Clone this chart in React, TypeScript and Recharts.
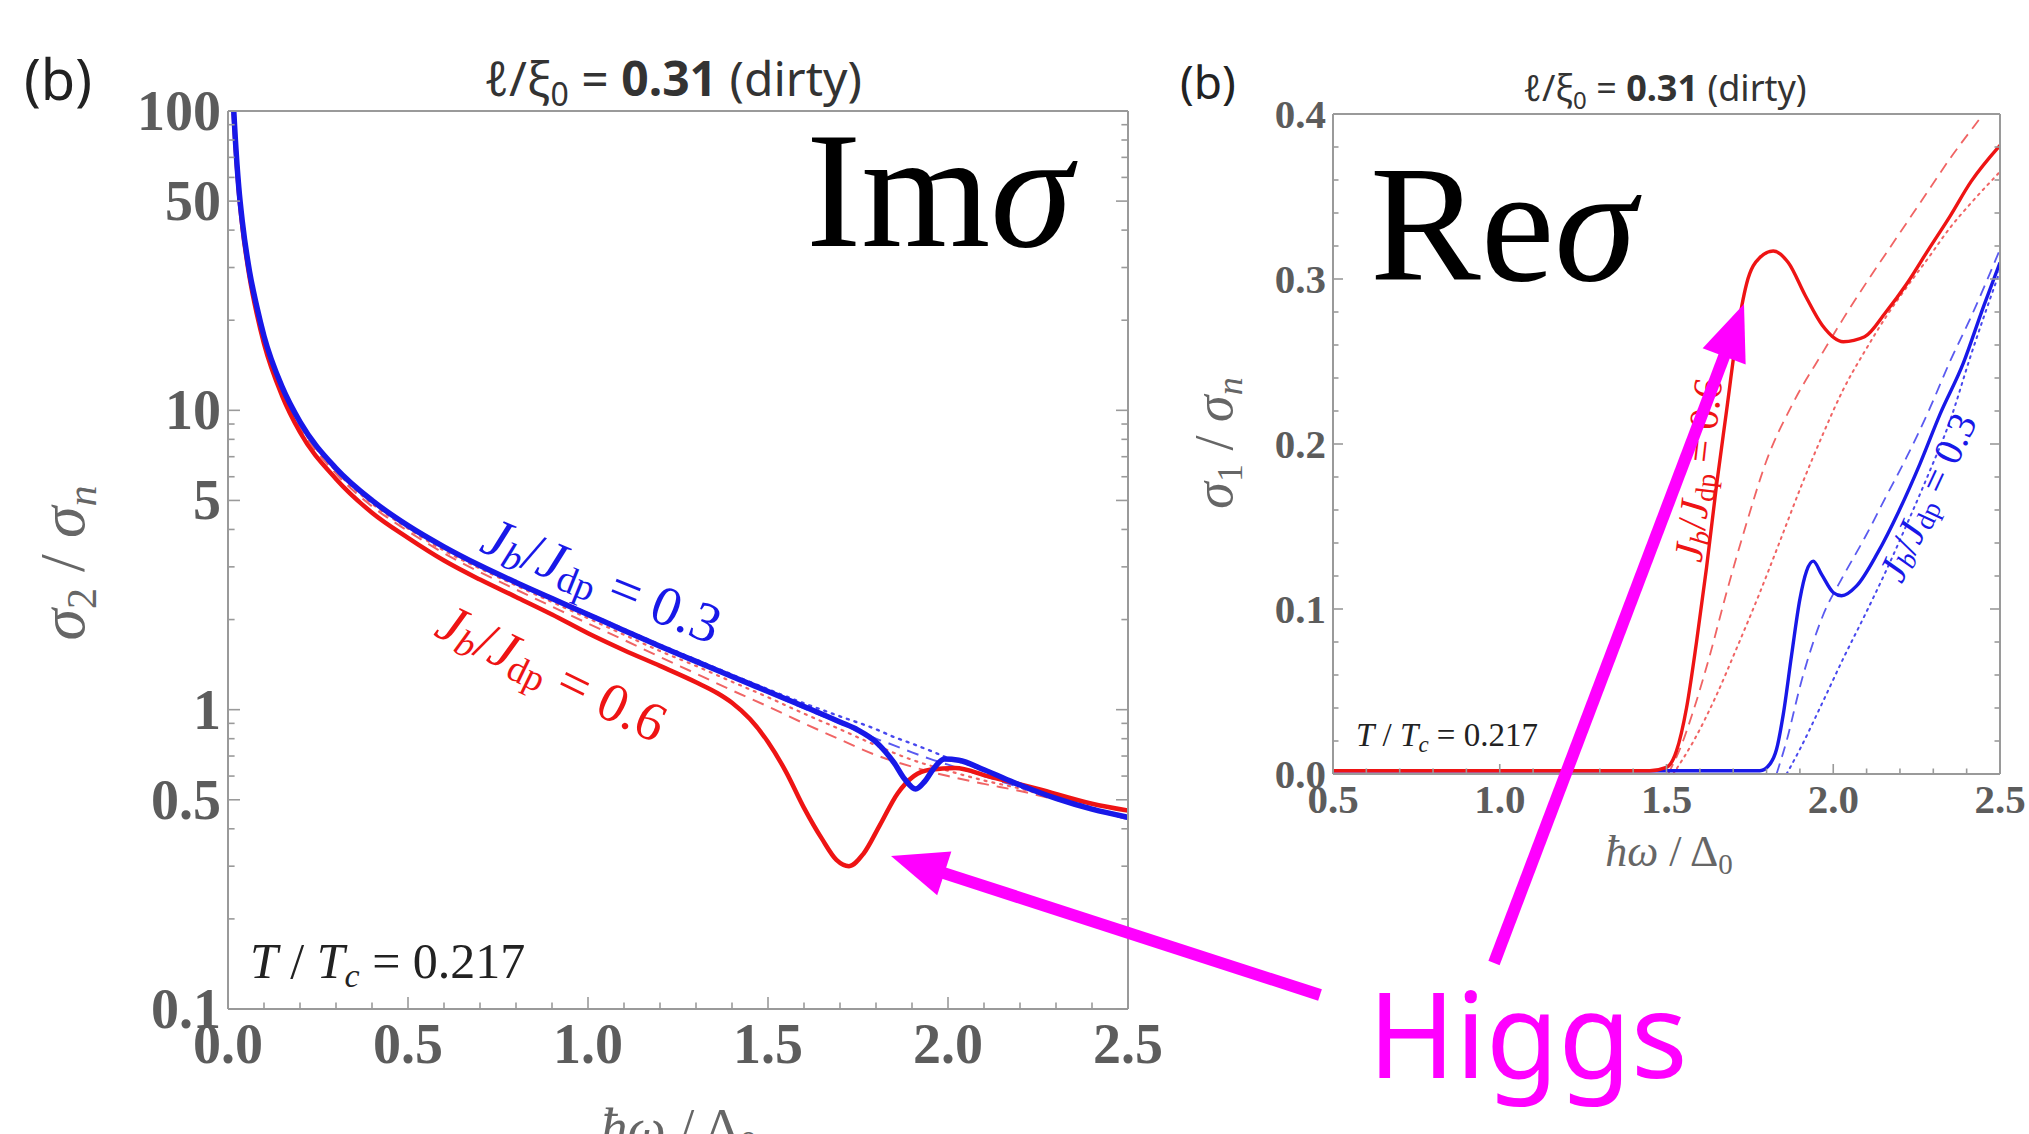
import React from "react";
import { LineChart, Line, XAxis, YAxis } from "recharts";

// ---- Im sigma (left panel, log scale) ----
const imBlueSolid = [
  { x: 0.016, y: 100 }, { x: 0.02, y: 82 }, { x: 0.03, y: 55.5 }, { x: 0.04, y: 42.5 }, { x: 0.06, y: 29 },
  { x: 0.08, y: 22.2 }, { x: 0.1, y: 17.7 }, { x: 0.15, y: 12.0 }, { x: 0.2, y: 9.15 }, { x: 0.3, y: 6.4 },
  { x: 0.4, y: 5.0 }, { x: 0.5, y: 4.12 }, { x: 0.6, y: 3.5 }, { x: 0.7, y: 3.03 }, { x: 0.8, y: 2.66 },
  { x: 0.9, y: 2.35 }, { x: 1.0, y: 2.08 }, { x: 1.1, y: 1.84 }, { x: 1.2, y: 1.63 }, { x: 1.3, y: 1.45 },
  { x: 1.4, y: 1.29 }, { x: 1.5, y: 1.15 }, { x: 1.6, y: 1.025 }, { x: 1.7, y: 0.91 }, { x: 1.75, y: 0.855 },
  { x: 1.8, y: 0.78 }, { x: 1.85, y: 0.665 }, { x: 1.88, y: 0.585 }, { x: 1.91, y: 0.543 }, { x: 1.935, y: 0.575 },
  { x: 1.96, y: 0.635 }, { x: 1.99, y: 0.684 }, { x: 2.03, y: 0.678 }, { x: 2.1, y: 0.63 }, { x: 2.2, y: 0.56 },
  { x: 2.3, y: 0.505 }, { x: 2.4, y: 0.465 }, { x: 2.5, y: 0.437 },
];
const imRedSolid = [
  { x: 0.016, y: 98 }, { x: 0.02, y: 80 }, { x: 0.03, y: 54 }, { x: 0.04, y: 41 }, { x: 0.06, y: 27.8 },
  { x: 0.08, y: 21 }, { x: 0.1, y: 16.7 }, { x: 0.15, y: 11.2 }, { x: 0.2, y: 8.45 }, { x: 0.3, y: 5.9 },
  { x: 0.4, y: 4.55 }, { x: 0.5, y: 3.75 }, { x: 0.6, y: 3.15 }, { x: 0.7, y: 2.72 }, { x: 0.8, y: 2.38 },
  { x: 0.9, y: 2.08 }, { x: 1.0, y: 1.8 }, { x: 1.1, y: 1.58 }, { x: 1.2, y: 1.4 }, { x: 1.3, y: 1.235 },
  { x: 1.36, y: 1.135 }, { x: 1.4, y: 1.055 }, { x: 1.45, y: 0.93 }, { x: 1.5, y: 0.78 }, { x: 1.55, y: 0.62 },
  { x: 1.6, y: 0.47 }, { x: 1.65, y: 0.37 }, { x: 1.69, y: 0.315 }, { x: 1.725, y: 0.3 }, { x: 1.765, y: 0.33 },
  { x: 1.81, y: 0.41 }, { x: 1.86, y: 0.525 }, { x: 1.905, y: 0.6 }, { x: 1.95, y: 0.63 }, { x: 2.02, y: 0.638 },
  { x: 2.11, y: 0.6 }, { x: 2.25, y: 0.543 }, { x: 2.4, y: 0.485 }, { x: 2.5, y: 0.46 },
];
const imRedDashed = [
  { x: 0.016, y: 99 }, { x: 0.02, y: 81 }, { x: 0.04, y: 42 }, { x: 0.06, y: 28.5 }, { x: 0.1, y: 17.2 },
  { x: 0.15, y: 11.6 }, { x: 0.2, y: 8.8 }, { x: 0.3, y: 6.15 }, { x: 0.4, y: 4.78 }, { x: 0.5, y: 3.95 },
  { x: 0.6, y: 3.33 }, { x: 0.7, y: 2.88 }, { x: 0.8, y: 2.52 }, { x: 0.9, y: 2.21 }, { x: 1.0, y: 1.94 },
  { x: 1.1, y: 1.71 }, { x: 1.2, y: 1.5 }, { x: 1.3, y: 1.32 }, { x: 1.4, y: 1.16 }, { x: 1.5, y: 1.025 },
  { x: 1.6, y: 0.9 }, { x: 1.7, y: 0.795 }, { x: 1.8, y: 0.705 }, { x: 1.9, y: 0.645 }, { x: 2.0, y: 0.6 },
  { x: 2.1, y: 0.565 }, { x: 2.2, y: 0.535 }, { x: 2.3, y: 0.5 }, { x: 2.4, y: 0.465 }, { x: 2.5, y: 0.43 },
];
const imRedDotted = [
  { x: 0.016, y: 99 }, { x: 0.02, y: 81.5 }, { x: 0.04, y: 42.2 }, { x: 0.06, y: 28.7 }, { x: 0.1, y: 17.4 },
  { x: 0.15, y: 11.8 }, { x: 0.2, y: 8.95 }, { x: 0.3, y: 6.27 }, { x: 0.4, y: 4.88 }, { x: 0.5, y: 4.03 },
  { x: 0.6, y: 3.4 }, { x: 0.7, y: 2.96 }, { x: 0.8, y: 2.6 }, { x: 0.9, y: 2.29 }, { x: 1.0, y: 2.02 },
  { x: 1.1, y: 1.78 }, { x: 1.2, y: 1.57 }, { x: 1.3, y: 1.4 }, { x: 1.4, y: 1.24 }, { x: 1.5, y: 1.1 },
  { x: 1.6, y: 0.97 }, { x: 1.7, y: 0.86 }, { x: 1.8, y: 0.76 }, { x: 1.9, y: 0.68 }, { x: 2.0, y: 0.625 },
  { x: 2.1, y: 0.58 }, { x: 2.2, y: 0.545 }, { x: 2.3, y: 0.505 }, { x: 2.4, y: 0.47 }, { x: 2.5, y: 0.435 },
];
const imBlueDashed = [
  { x: 0.016, y: 100 }, { x: 0.02, y: 82 }, { x: 0.04, y: 42.5 }, { x: 0.06, y: 29 }, { x: 0.1, y: 17.7 },
  { x: 0.15, y: 12.0 }, { x: 0.2, y: 9.15 }, { x: 0.3, y: 6.4 }, { x: 0.4, y: 5.0 }, { x: 0.5, y: 4.12 },
  { x: 0.6, y: 3.5 }, { x: 0.7, y: 3.03 }, { x: 0.8, y: 2.66 }, { x: 0.9, y: 2.35 }, { x: 1.0, y: 2.07 },
  { x: 1.1, y: 1.83 }, { x: 1.2, y: 1.62 }, { x: 1.3, y: 1.44 }, { x: 1.4, y: 1.28 }, { x: 1.5, y: 1.14 },
  { x: 1.6, y: 1.01 }, { x: 1.7, y: 0.9 }, { x: 1.8, y: 0.8 }, { x: 1.85, y: 0.76 }, { x: 1.9, y: 0.72 },
  { x: 1.95, y: 0.685 }, { x: 2.0, y: 0.655 }, { x: 2.1, y: 0.6 }, { x: 2.2, y: 0.55 }, { x: 2.3, y: 0.505 },
  { x: 2.4, y: 0.465 }, { x: 2.5, y: 0.43 },
];
const imBlueDotted = [
  { x: 0.016, y: 100 }, { x: 0.02, y: 82 }, { x: 0.04, y: 42.5 }, { x: 0.06, y: 29 }, { x: 0.1, y: 17.7 },
  { x: 0.15, y: 12.0 }, { x: 0.2, y: 9.15 }, { x: 0.3, y: 6.4 }, { x: 0.4, y: 5.0 }, { x: 0.5, y: 4.13 },
  { x: 0.6, y: 3.52 }, { x: 0.7, y: 3.05 }, { x: 0.8, y: 2.68 }, { x: 0.9, y: 2.37 }, { x: 1.0, y: 2.1 },
  { x: 1.1, y: 1.86 }, { x: 1.2, y: 1.65 }, { x: 1.3, y: 1.47 }, { x: 1.4, y: 1.31 }, { x: 1.5, y: 1.17 },
  { x: 1.6, y: 1.05 }, { x: 1.7, y: 0.95 }, { x: 1.8, y: 0.86 }, { x: 1.85, y: 0.81 }, { x: 1.9, y: 0.77 },
  { x: 1.95, y: 0.73 }, { x: 2.0, y: 0.69 }, { x: 2.05, y: 0.66 }, { x: 2.1, y: 0.625 }, { x: 2.2, y: 0.565 },
  { x: 2.3, y: 0.515 }, { x: 2.4, y: 0.47 }, { x: 2.5, y: 0.435 },
];

// ---- Re sigma (right panel, linear) ----
const reRedSolid = [
  { x: 0.5, y: 0.002 }, { x: 1.45, y: 0.002 }, { x: 1.5, y: 0.004 }, { x: 1.53, y: 0.014 }, { x: 1.56, y: 0.04 },
  { x: 1.59, y: 0.08 }, { x: 1.62, y: 0.125 }, { x: 1.65, y: 0.175 }, { x: 1.68, y: 0.22 }, { x: 1.71, y: 0.265 },
  { x: 1.74, y: 0.297 }, { x: 1.78, y: 0.313 }, { x: 1.82, y: 0.317 }, { x: 1.865, y: 0.31 }, { x: 1.916, y: 0.29 },
  { x: 1.967, y: 0.272 }, { x: 2.03, y: 0.262 }, { x: 2.094, y: 0.265 }, { x: 2.158, y: 0.28 }, { x: 2.22, y: 0.297 },
  { x: 2.286, y: 0.318 }, { x: 2.35, y: 0.338 }, { x: 2.413, y: 0.359 }, { x: 2.5, y: 0.381 },
];
const reRedDashed = [
  { x: 1.505, y: 0 }, { x: 1.54, y: 0.015 }, { x: 1.58, y: 0.038 }, { x: 1.63, y: 0.072 }, { x: 1.68, y: 0.11 },
  { x: 1.74, y: 0.152 }, { x: 1.8, y: 0.19 }, { x: 1.88, y: 0.225 }, { x: 1.97, y: 0.256 }, { x: 2.03, y: 0.276 },
  { x: 2.1, y: 0.298 }, { x: 2.16, y: 0.316 }, { x: 2.22, y: 0.334 }, { x: 2.29, y: 0.355 }, { x: 2.35, y: 0.373 },
  { x: 2.42, y: 0.392 }, { x: 2.45, y: 0.4 },
];
const reRedDotted = [
  { x: 1.52, y: 0 }, { x: 1.584, y: 0.021 }, { x: 1.648, y: 0.047 }, { x: 1.712, y: 0.077 }, { x: 1.776, y: 0.108 },
  { x: 1.84, y: 0.141 }, { x: 1.903, y: 0.174 }, { x: 1.967, y: 0.205 }, { x: 2.03, y: 0.233 }, { x: 2.094, y: 0.256 },
  { x: 2.158, y: 0.277 }, { x: 2.22, y: 0.295 }, { x: 2.286, y: 0.313 }, { x: 2.35, y: 0.331 }, { x: 2.413, y: 0.346 },
  { x: 2.5, y: 0.365 },
];
const reBlueSolid = [
  { x: 0.5, y: 0.002 }, { x: 1.78, y: 0.002 }, { x: 1.81, y: 0.006 }, { x: 1.83, y: 0.015 }, { x: 1.85, y: 0.036 },
  { x: 1.875, y: 0.072 }, { x: 1.9, y: 0.106 }, { x: 1.92, y: 0.123 }, { x: 1.94, y: 0.129 }, { x: 1.965, y: 0.121 },
  { x: 2.0, y: 0.11 }, { x: 2.025, y: 0.108 }, { x: 2.07, y: 0.114 }, { x: 2.133, y: 0.134 }, { x: 2.196, y: 0.159 },
  { x: 2.26, y: 0.188 }, { x: 2.32, y: 0.218 }, { x: 2.39, y: 0.249 }, { x: 2.45, y: 0.283 }, { x: 2.5, y: 0.31 },
];
const reBlueDashed = [
  { x: 1.83, y: 0 }, { x: 1.86, y: 0.02 }, { x: 1.903, y: 0.055 }, { x: 1.967, y: 0.095 }, { x: 2.03, y: 0.12 },
  { x: 2.094, y: 0.143 }, { x: 2.158, y: 0.168 }, { x: 2.22, y: 0.192 }, { x: 2.286, y: 0.22 }, { x: 2.35, y: 0.25 },
  { x: 2.413, y: 0.277 }, { x: 2.5, y: 0.318 },
];
const reBlueDotted = [
  { x: 1.86, y: 0 }, { x: 1.9, y: 0.015 }, { x: 1.967, y: 0.043 }, { x: 2.03, y: 0.07 }, { x: 2.094, y: 0.096 },
  { x: 2.158, y: 0.123 }, { x: 2.22, y: 0.151 }, { x: 2.286, y: 0.182 }, { x: 2.35, y: 0.214 }, { x: 2.413, y: 0.254 },
  { x: 2.5, y: 0.305 },
];

// ---- ticks ----
const imXMajor = [0, 0.5, 1, 1.5, 2, 2.5];
const imXMinor = [0.1, 0.2, 0.3, 0.4, 0.6, 0.7, 0.8, 0.9, 1.1, 1.2, 1.3, 1.4, 1.6, 1.7, 1.8, 1.9, 2.1, 2.2, 2.3, 2.4];
const imYMajor = [0.1, 0.5, 1, 5, 10, 50, 100];
const imYMinor = [0.2, 0.3, 0.4, 0.6, 0.7, 0.8, 0.9, 2, 3, 4, 6, 7, 8, 9, 20, 30, 40, 60, 70, 80, 90];
const reXMajor = [0.5, 1, 1.5, 2, 2.5];
const reXMinor = [0.6, 0.7, 0.8, 0.9, 1.1, 1.2, 1.3, 1.4, 1.6, 1.7, 1.8, 1.9, 2.1, 2.2, 2.3, 2.4];
const reYMajor = [0, 0.1, 0.2, 0.3, 0.4];
const reYMinor = [0.02, 0.04, 0.06, 0.08, 0.12, 0.14, 0.16, 0.18, 0.22, 0.24, 0.26, 0.28, 0.32, 0.34, 0.36, 0.38];

const FRAME = "#9a9a9a";
const TICK_FONT = "'Liberation Serif', 'DejaVu Serif', serif";
const RED = "#ee1414";
const BLUE = "#1818e8";
const MAGENTA = "#ff00ff";

type Side = "bottom" | "left" | "top" | "right";

function makeTick(side: Side, major: number[], len: number, fontSize: number, fmt: (v: number) => string) {
  return (props: any) => {
    const { x, y, payload } = props;
    const v = payload.value;
    const isMajor = major.some((m) => Math.abs(m - v) < 1e-9);
    const l = isMajor ? len : len * 0.55;
    let line = null;
    let label = null;
    if (side === "bottom") {
      line = <line x1={x} y1={y} x2={x} y2={y - l} stroke={FRAME} strokeWidth={1.6} />;
      if (isMajor)
        label = (
          <text x={x} y={y + fontSize * 0.96} textAnchor="middle" fontFamily={TICK_FONT} fontWeight="bold" fontSize={fontSize} fill="#5c5c5c">
            {fmt(v)}
          </text>
        );
    } else if (side === "top") {
      line = <line x1={x} y1={y} x2={x} y2={y + l} stroke={FRAME} strokeWidth={1.6} />;
    } else if (side === "left") {
      line = <line x1={x} y1={y} x2={x + l} y2={y} stroke={FRAME} strokeWidth={1.6} />;
      if (isMajor)
        label = (
          <text x={x - 7} y={y + fontSize * 0.34} textAnchor="end" fontFamily={TICK_FONT} fontWeight="bold" fontSize={fontSize} fill="#5c5c5c">
            {fmt(v)}
          </text>
        );
    } else {
      line = <line x1={x} y1={y} x2={x - l} y2={y} stroke={FRAME} strokeWidth={1.6} />;
    }
    return (
      <g>
        {line}
        {label}
      </g>
    );
  };
}

const fmt1 = (v: number) => v.toFixed(1);
const fmtLog = (v: number) => String(v);
const axisLine = { stroke: FRAME, strokeWidth: 2 };

function ImChart() {
  const xt = [...imXMajor, ...imXMinor];
  const yt = [...imYMajor, ...imYMinor];
  const common = { isAnimationActive: false, dot: false, type: "monotone" as const, dataKey: "y" };
  return (
    <LineChart width={1200} height={1134} margin={{ top: 110, left: 227, right: 71, bottom: 124 }}>
      <XAxis xAxisId="b" dataKey="x" type="number" domain={[0, 2.5]} ticks={xt} interval={0} height={1} tickSize={0} tickMargin={0}
        allowDataOverflow axisLine={axisLine} tickLine={false} tick={makeTick("bottom", imXMajor, 12, 56, fmt1)} />
      <XAxis xAxisId="t" orientation="top" type="number" domain={[0, 2.5]} ticks={xt} interval={0} height={1} tickSize={0} tickMargin={0}
        allowDataOverflow axisLine={axisLine} tickLine={false} tick={makeTick("top", imXMajor, 12, 56, fmt1)} />
      <YAxis yAxisId="l" type="number" scale="log" domain={[0.1, 100]} ticks={yt} interval={0} width={1} tickSize={0} tickMargin={0}
        allowDataOverflow axisLine={axisLine} tickLine={false} tick={makeTick("left", imYMajor, 12, 56, fmtLog)} />
      <YAxis yAxisId="r" orientation="right" type="number" scale="log" domain={[0.1, 100]} ticks={yt} interval={0} width={1} tickSize={0} tickMargin={0}
        allowDataOverflow axisLine={axisLine} tickLine={false} tick={makeTick("right", imYMajor, 12, 56, fmtLog)} />
      <Line {...common} xAxisId="b" yAxisId="l" data={imRedDashed} stroke="#f06464" strokeWidth={2} strokeDasharray="12 8" />
      <Line {...common} xAxisId="b" yAxisId="l" data={imRedDotted} stroke="#f06464" strokeWidth={2.2} strokeDasharray="2 6" strokeLinecap="round" />
      <Line {...common} xAxisId="b" yAxisId="l" data={imBlueDashed} stroke="#5a5af0" strokeWidth={2} strokeDasharray="12 8" />
      <Line {...common} xAxisId="b" yAxisId="l" data={imBlueDotted} stroke="#4848ee" strokeWidth={2.4} strokeDasharray="2 6" strokeLinecap="round" />
      <Line {...common} xAxisId="b" yAxisId="l" data={imRedSolid} stroke={RED} strokeWidth={4.5} />
      <Line {...common} xAxisId="b" yAxisId="l" data={imBlueSolid} stroke={BLUE} strokeWidth={5.5} />
    </LineChart>
  );
}

function ReChart() {
  const xt = [...reXMajor, ...reXMinor];
  const yt = [...reYMajor, ...reYMinor];
  const common = { isAnimationActive: false, dot: false, type: "monotone" as const, dataKey: "y" };
  return (
    <LineChart width={879} height={1134} margin={{ top: 113, left: 182, right: 28, bottom: 359 }}>
      <XAxis xAxisId="b" dataKey="x" type="number" domain={[0.5, 2.5]} ticks={xt} interval={0} height={1} tickSize={0} tickMargin={0}
        allowDataOverflow axisLine={axisLine} tickLine={false} tick={makeTick("bottom", reXMajor, 10, 41, fmt1)} />
      <XAxis xAxisId="t" orientation="top" type="number" domain={[0.5, 2.5]} ticks={xt} interval={0} height={1} tickSize={0} tickMargin={0}
        allowDataOverflow axisLine={axisLine} tickLine={false} tick={makeTick("top", reXMajor, 10, 41, fmt1)} />
      <YAxis yAxisId="l" type="number" domain={[0, 0.4]} ticks={yt} interval={0} width={1} tickSize={0} tickMargin={0}
        allowDataOverflow axisLine={axisLine} tickLine={false} tick={makeTick("left", reYMajor, 10, 41, fmt1)} />
      <YAxis yAxisId="r" orientation="right" type="number" domain={[0, 0.4]} ticks={yt} interval={0} width={1} tickSize={0} tickMargin={0}
        allowDataOverflow axisLine={axisLine} tickLine={false} tick={makeTick("right", reYMajor, 10, 41, fmt1)} />
      <Line {...common} xAxisId="b" yAxisId="l" data={reRedDashed} stroke="#f06464" strokeWidth={1.8} strokeDasharray="11 7" />
      <Line {...common} xAxisId="b" yAxisId="l" data={reRedDotted} stroke="#f06464" strokeWidth={2} strokeDasharray="2 5" strokeLinecap="round" />
      <Line {...common} xAxisId="b" yAxisId="l" data={reBlueDashed} stroke="#5a5af0" strokeWidth={1.8} strokeDasharray="11 7" />
      <Line {...common} xAxisId="b" yAxisId="l" data={reBlueDotted} stroke="#4848ee" strokeWidth={2} strokeDasharray="2 5" strokeLinecap="round" />
      <Line {...common} xAxisId="b" yAxisId="l" data={reBlueSolid} stroke={BLUE} strokeWidth={3.4} />
      <Line {...common} xAxisId="b" yAxisId="l" data={reRedSolid} stroke={RED} strokeWidth={3.4} />
    </LineChart>
  );
}

const SERIF = "'Liberation Serif', 'DejaVu Serif', serif";
const SANS = "'Noto Sans', 'DejaVu Sans', sans-serif";

function JLabel({ cx, cy, angle, size, color, value }: { cx: number; cy: number; angle: number; size: number; color: string; value: string }) {
  const s = size * 0.68;
  const d = size * 0.22;
  return (
    <text x={cx} y={cy} textAnchor="middle" dominantBaseline="central" transform={`rotate(${angle} ${cx} ${cy})`}
      fontFamily={SERIF} fontSize={size} fill={color}>
      <tspan fontStyle="italic">J</tspan>
      <tspan fontStyle="italic" fontSize={s} dy={d}>b</tspan>
      <tspan dy={-d}>/</tspan>
      <tspan fontStyle="italic">J</tspan>
      <tspan fontSize={s} dy={d}>dp</tspan>
      <tspan dy={-d}>{` = ${value}`}</tspan>
    </text>
  );
}

function Arrow({ x1, y1, x2, y2 }: { x1: number; y1: number; x2: number; y2: number }) {
  const a = Math.atan2(y2 - y1, x2 - x1);
  const head = 56;
  const hw = 23;
  const bx = x2 - head * Math.cos(a);
  const by = y2 - head * Math.sin(a);
  const px = -Math.sin(a) * hw;
  const py = Math.cos(a) * hw;
  return (
    <g>
      <line x1={x1} y1={y1} x2={bx + 2 * Math.cos(a)} y2={by + 2 * Math.sin(a)} stroke={MAGENTA} strokeWidth={12} />
      <polygon points={`${x2},${y2} ${bx + px},${by + py} ${bx - px},${by - py}`} fill={MAGENTA} />
    </g>
  );
}

function Overlay() {
  return (
    <svg width={2029} height={1134} style={{ position: "absolute", left: 0, top: 0, pointerEvents: "none" }}>
      {/* panel tags and titles */}
      <text x={24} y={100} fontFamily={SANS} fontSize={56} fill="#222">(b)</text>
      <text x={1180} y={99} fontFamily={SANS} fontSize={46} fill="#222">(b)</text>
      <text x={673} y={96} textAnchor="middle" fontFamily={SANS} fontSize={48} fill="#333">
        <tspan fontStyle="italic">ℓ</tspan>/ξ<tspan fontSize={32} dy={10}>0</tspan>
        <tspan dy={-10}> = </tspan><tspan fontWeight="bold">0.31</tspan> (dirty)
      </text>
      <text x={1665} y={101} textAnchor="middle" fontFamily={SANS} fontSize={36} fill="#333">
        <tspan fontStyle="italic">ℓ</tspan>/ξ<tspan fontSize={24} dy={8}>0</tspan>
        <tspan dy={-8}> = </tspan><tspan fontWeight="bold">0.31</tspan> (dirty)
      </text>

      {/* big labels */}
      <text x={806} y={246} fontFamily={SERIF} fontSize={166} fill="#000">
        Im<tspan fontStyle="italic">σ</tspan>
      </text>
      <text x={1370} y={280} fontFamily={SERIF} fontSize={166} fill="#000">
        Re<tspan fontStyle="italic">σ</tspan>
      </text>

      {/* axis titles */}
      <text x={0} y={0} transform="translate(84 563) rotate(-90)" textAnchor="middle" fontFamily={SERIF} fontSize={64} fill="#666">
        <tspan fontStyle="italic">σ</tspan><tspan fontSize={42} dy={12}>2</tspan>
        <tspan dy={-12}> / </tspan><tspan fontStyle="italic">σ</tspan><tspan fontStyle="italic" fontSize={42} dy={12}>n</tspan>
      </text>
      <text x={0} y={0} transform="translate(1232 443) rotate(-90)" textAnchor="middle" fontFamily={SERIF} fontSize={54} fill="#666">
        <tspan fontStyle="italic">σ</tspan><tspan fontSize={36} dy={10}>1</tspan>
        <tspan dy={-10}> / </tspan><tspan fontStyle="italic">σ</tspan><tspan fontStyle="italic" fontSize={36} dy={10}>n</tspan>
      </text>
      <text x={679} y={1146} textAnchor="middle" fontFamily={SERIF} fontSize={54} fill="#666">
        <tspan fontStyle="italic">ħω</tspan> / Δ<tspan fontSize={36} dy={10}>0</tspan>
      </text>
      <text x={1669} y={866} textAnchor="middle" fontFamily={SERIF} fontSize={44} fill="#666">
        <tspan fontStyle="italic">ħω</tspan> / Δ<tspan fontSize={29} dy={8}>0</tspan>
      </text>

      {/* temperature notes */}
      <text x={250} y={978} fontFamily={SERIF} fontSize={50} fill="#222">
        <tspan fontStyle="italic">T</tspan> / <tspan fontStyle="italic">T</tspan>
        <tspan fontStyle="italic" fontSize={34} dy={9}>c</tspan><tspan dy={-9}> = 0.217</tspan>
      </text>
      <text x={1356} y={746} fontFamily={SERIF} fontSize={33} fill="#222">
        <tspan fontStyle="italic">T</tspan> / <tspan fontStyle="italic">T</tspan>
        <tspan fontStyle="italic" fontSize={23} dy={6}>c</tspan><tspan dy={-6}> = 0.217</tspan>
      </text>

      {/* curve labels */}
      <JLabel cx={602} cy={580} angle={22} size={56} color={BLUE} value="0.3" />
      <JLabel cx={552} cy={672} angle={26} size={55} color={RED} value="0.6" />
      <JLabel cx={1698} cy={470} angle={-83.5} size={41} color={RED} value="0.6" />
      <JLabel cx={1927} cy={497} angle={-65} size={40} color={BLUE} value="0.3" />

      {/* Higgs annotation */}
      <Arrow x1={1320} y1={995} x2={891} y2={856} />
      <Arrow x1={1494} y1={963} x2={1744} y2={304} />
      <text x={1368} y={1078} fontFamily={SANS} fontSize={118} fill={MAGENTA}>Higgs</text>
    </svg>
  );
}

export default function App() {
  return (
    <div style={{ position: "absolute", left: 0, top: 0, width: 2029, height: 1134, background: "#fff", overflow: "hidden" }}>
      <div style={{ position: "absolute", left: 0, top: 0 }}>
        <ImChart />
      </div>
      <div style={{ position: "absolute", left: 1150, top: 0 }}>
        <ReChart />
      </div>
      <Overlay />
    </div>
  );
}
